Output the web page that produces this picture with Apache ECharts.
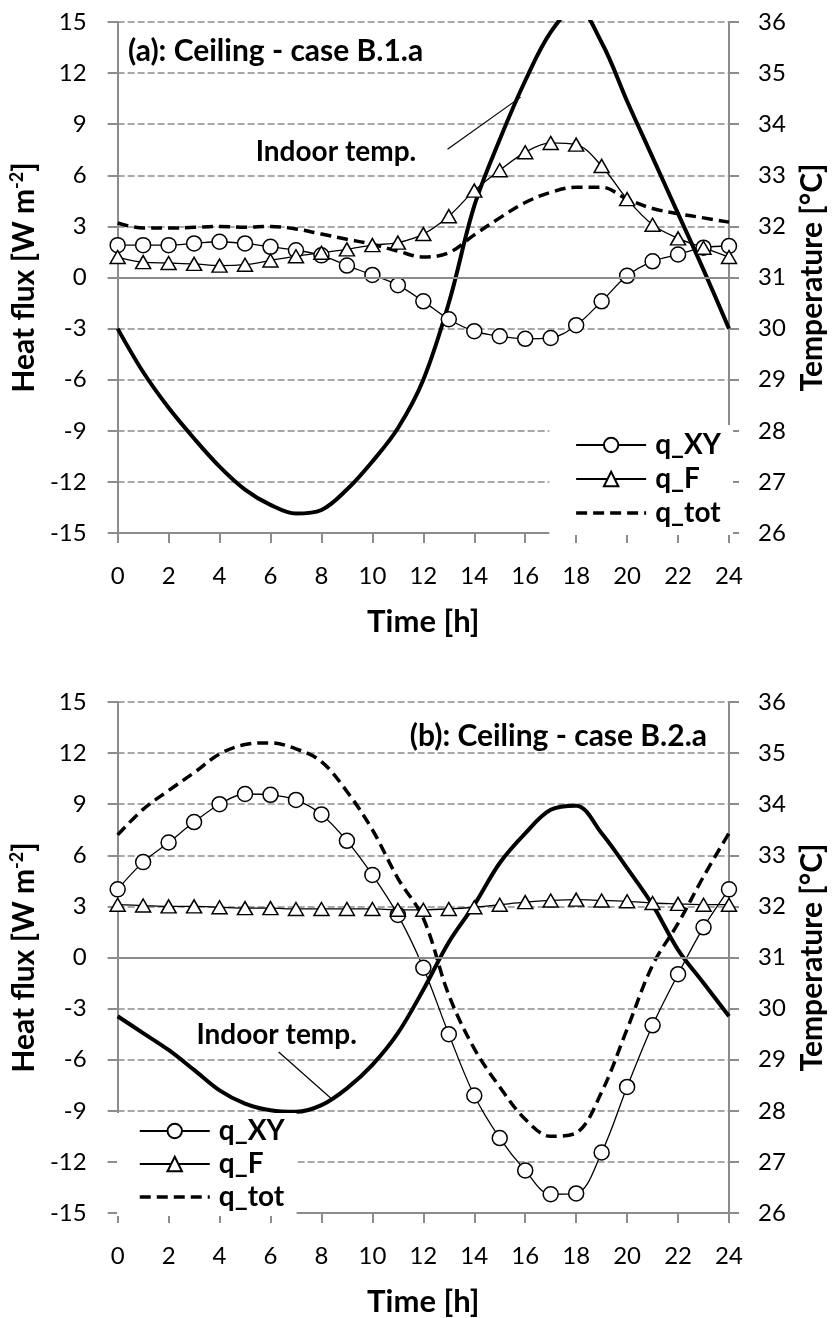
<!DOCTYPE html>
<html><head><meta charset="utf-8">
<script src="https://cdn.jsdelivr.net/npm/echarts@6/dist/echarts.min.js"></script>
<style>html,body{margin:0;padding:0;background:#fff}#c{width:835px;height:1318px}</style>
</head><body><div id="c"></div>
<script>
// ---------- data ----------
const hours = [0,1,2,3,4,5,6,7,8,9,10,11,12,13,14,15,16,17,18,19,20,21,22,23,24];
const xTicks = {min: 0, max: 24, interval: 2};
const fluxTicks = {min: -15, max: 15, interval: 3};
const tempTicks = {min: 26, max: 36, interval: 1};
const legendNames = ['q_XY', 'q_F', 'q_tot'];
const panelTitles = ['(a): Ceiling - case B.1.a', '(b): Ceiling - case B.2.a'];
const tempLabel = 'Indoor temp.';

// panel (a)
const aXY   = [1.9,1.9,1.9,2.0,2.1,2.0,1.8,1.6,1.3,0.7,0.15,-0.45,-1.4,-2.45,-3.15,-3.45,-3.6,-3.55,-2.8,-1.4,0.1,0.95,1.35,1.75,1.85];
const aF    = [1.2,0.9,0.85,0.8,0.7,0.75,1.0,1.25,1.45,1.65,1.9,2.05,2.55,3.6,5.1,6.3,7.35,7.9,7.8,6.55,4.6,3.1,2.3,1.75,1.2];
const aTot  = [3.2,2.9,2.9,2.95,3.0,2.95,3.0,2.85,2.55,2.25,1.95,1.55,1.2,1.45,2.5,3.5,4.4,5.0,5.3,5.3,4.6,4.05,3.75,3.5,3.25];
const aTemp = [30.0,29.15,28.45,27.85,27.3,26.85,26.55,26.38,26.45,26.85,27.4,28.05,29.0,30.5,32.4,33.7,34.85,35.8,36.3,35.6,34.45,33.35,32.25,31.15,30.0];

// panel (b)
const bXY   = [4.0,5.6,6.75,7.95,9.0,9.6,9.55,9.25,8.4,6.85,4.85,2.5,-0.6,-4.5,-8.1,-10.6,-12.5,-13.9,-13.85,-11.45,-7.6,-3.98,-0.98,1.77,4.0];
const bF    = [3.1,3.05,3.0,3.0,2.95,2.9,2.9,2.85,2.85,2.85,2.85,2.8,2.8,2.85,2.95,3.1,3.25,3.35,3.4,3.35,3.3,3.2,3.15,3.1,3.1];
const bTot  = [7.2,8.7,9.8,10.85,11.95,12.5,12.6,12.25,11.5,9.75,7.5,4.65,2.3,-2.2,-5.35,-7.6,-9.5,-10.5,-10.3,-7.9,-4.2,-0.45,2.0,4.75,7.3];
const bTemp = [29.85,29.52,29.19,28.8,28.4,28.14,28.01,27.98,28.11,28.44,28.9,29.52,30.37,31.3,32.03,32.85,33.43,33.89,33.97,33.43,32.75,32.03,31.15,30.5,29.85];

// annotation anchors (data coordinates: hour, temperature)
const aTextAt = [8.57, 33.46];
const aLeader = [[12.95, 33.51], [15.82, 34.53]];
const bTextAt = [6.24, 29.48];
const bLeader = [[6.32, 29.15], [8.45, 28.21]];

// ---------- styling ----------
const FONT = 'Lato, "Open Sans", sans-serif';
const GRAY = '#8c8c8c';
const pairs = ys => hours.map((h, i) => [h, ys[i]]);

function xAxis(gi) {
  return {
    type: 'value', gridIndex: gi, min: xTicks.min, max: xTicks.max, interval: xTicks.interval,
    name: 'Time [h]', nameLocation: 'middle', nameGap: 73,
    nameTextStyle: {fontFamily: FONT, fontSize: 31, fontWeight: 'bold', color: '#000'},
    axisLine: {show: true, onZero: false, lineStyle: {color: GRAY, width: 2}},
    axisTick: {show: true, inside: false, length: 10, lineStyle: {color: GRAY, width: 2}},
    axisLabel: {fontFamily: FONT, fontSize: 24, color: '#000', margin: 31},
    splitLine: {show: false}
  };
}
function fluxAxis(gi) {
  return {
    type: 'value', gridIndex: gi, position: 'left', min: fluxTicks.min, max: fluxTicks.max, interval: fluxTicks.interval,
    name: '{t|Heat flux [W m}{s|-2}{t|]}', nameLocation: 'middle', nameGap: 69, nameRotate: 90,
    nameTextStyle: {rich: {
      t: {fontFamily: FONT, fontSize: 30, fontWeight: 'bold', color: '#000', lineHeight: 32},
      s: {fontFamily: FONT, fontSize: 18, fontWeight: 'bold', color: '#000', verticalAlign: 'top', lineHeight: 32, padding: [0, 0, 13, 0]}
    }},
    axisLine: {show: true, onZero: false, lineStyle: {color: GRAY, width: 2}},
    axisTick: {show: true, inside: false, length: 10, lineStyle: {color: GRAY, width: 2}},
    axisLabel: {fontFamily: FONT, fontSize: 24, color: '#000', margin: 31},
    splitLine: {show: true, lineStyle: {color: GRAY, width: 1.5, type: [7, 3]}}
  };
}
function tempAxis(gi) {
  return {
    type: 'value', gridIndex: gi, position: 'right', min: tempTicks.min, max: tempTicks.max, interval: tempTicks.interval,
    name: 'Temperature [°C]', nameLocation: 'middle', nameGap: 68, nameRotate: 90,
    nameTextStyle: {fontFamily: FONT, fontSize: 30, fontWeight: 'bold', color: '#000'},
    axisLine: {show: true, onZero: false, lineStyle: {color: GRAY, width: 2}},
    axisTick: {show: true, inside: false, length: 10, lineStyle: {color: GRAY, width: 2}},
    axisLabel: {fontFamily: FONT, fontSize: 24, color: '#000', margin: 29},
    splitLine: {show: false}
  };
}

function panelSeries(xi, yl, yr, xy, f, tot, temp, textAt, leader) {
  return [
    {
      name: 'Indoor temp.', type: 'line', xAxisIndex: xi, yAxisIndex: yr, data: pairs(temp),
      smooth: 0.35, symbol: 'none', clip: true, z: 3,
      lineStyle: {color: '#000', width: 4},
      markLine: {silent: true, symbol: 'none', label: {show: false},
        lineStyle: {color: '#000', width: 1.2, type: 'solid'},
        data: [[{coord: leader[0]}, {coord: leader[1]}]]},
      markPoint: {silent: true, symbol: 'circle', symbolSize: 0,
        label: {show: true, position: 'inside', formatter: tempLabel, fontFamily: FONT, fontSize: 28, fontWeight: 'bold', color: '#000'},
        data: [{coord: textAt}]}
    },
    {
      name: 'q_XY', type: 'line', xAxisIndex: xi, yAxisIndex: yl, data: pairs(xy),
      smooth: 0.35, symbol: 'circle', symbolSize: 15, showAllSymbol: true, z: 4,
      lineStyle: {color: '#000', width: 1.3},
      itemStyle: {color: '#fff', borderColor: '#000', borderWidth: 1.5},
      markLine: {silent: true, symbol: 'none', label: {show: false},
        lineStyle: {color: GRAY, width: 2, type: 'solid'},
        data: [{yAxis: 0}]}
    },
    {
      name: 'q_F', type: 'line', xAxisIndex: xi, yAxisIndex: yl, data: pairs(f),
      smooth: 0.35, symbol: 'triangle', symbolSize: [15, 13], showAllSymbol: true, z: 4,
      lineStyle: {color: '#000', width: 1.3},
      itemStyle: {color: '#fff', borderColor: '#000', borderWidth: 1.5}
    },
    {
      name: 'q_tot', type: 'line', xAxisIndex: xi, yAxisIndex: yl, data: pairs(tot),
      smooth: 0.35, symbol: 'none', z: 3,
      lineStyle: {color: '#000', width: 3.5, type: [11, 6]},
      itemStyle: {color: '#000'}
    }
  ];
}

const legendText = {fontFamily: FONT, fontSize: 28, fontWeight: 'bold', color: '#000', padding: [0, 0, 0, 4]};
const legendData = [
  {name: legendNames[0]},
  {name: legendNames[1]},
  {name: legendNames[2], itemStyle: {opacity: 0, borderWidth: 0}, lineStyle: {width: 3.5, type: [11, 6], color: '#000'}}
];

const option = {
  animation: false,
  backgroundColor: '#fff',
  title: [
    {text: panelTitles[0], left: 123, top: 31, textStyle: {fontFamily: FONT, fontSize: 30, fontWeight: 'bold', color: '#000'}},
    {text: panelTitles[1], right: 123, top: 716, textStyle: {fontFamily: FONT, fontSize: 30, fontWeight: 'bold', color: '#000'}}
  ],
  legend: [
    {data: legendData, orient: 'vertical', right: 102, top: 425, itemWidth: 70, itemHeight: 18, itemGap: 6,
     padding: [6, 12, 8, 25], backgroundColor: '#fff', textStyle: legendText, selectedMode: false},
    {data: legendData, orient: 'vertical', left: 117, top: 1113, itemWidth: 70, itemHeight: 18, itemGap: 5,
     padding: [4, 12, 5, 21], backgroundColor: '#fff', textStyle: legendText, selectedMode: false}
  ],
  grid: [
    {left: 115, right: 101, top: 22, height: 511},
    {left: 115, right: 101, top: 702, height: 511}
  ],
  xAxis: [xAxis(0), xAxis(1)],
  yAxis: [fluxAxis(0), tempAxis(0), fluxAxis(1), tempAxis(1)],
  series: [
    ...panelSeries(0, 0, 1, aXY, aF, aTot, aTemp, aTextAt, aLeader),
    ...panelSeries(1, 2, 3, bXY, bF, bTot, bTemp, bTextAt, bLeader)
  ]
};

const chart = echarts.init(document.getElementById('c'), null, {renderer: 'canvas'});
chart.setOption(option);
</script>
</body></html>
